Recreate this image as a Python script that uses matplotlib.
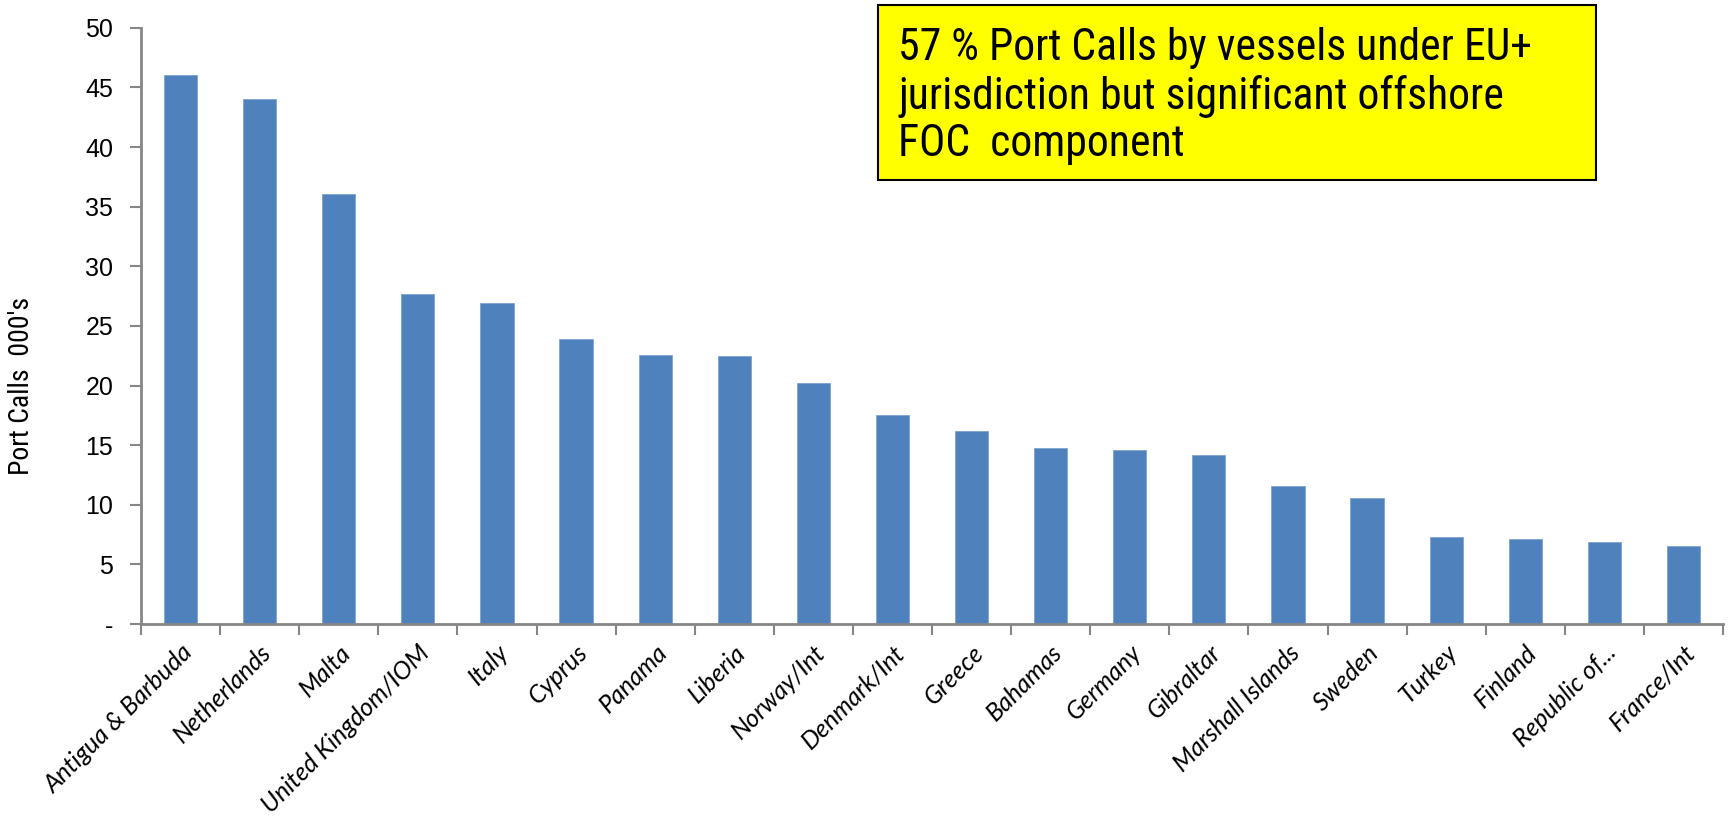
import matplotlib
matplotlib.use("Agg")
import matplotlib.pyplot as plt
from matplotlib.patches import Rectangle
from matplotlib import font_manager
import numpy as np

countries = ["Antigua & Barbuda", "Netherlands", "Malta", "United Kingdom/IOM", "Italy",
             "Cyprus", "Panama", "Liberia", "Norway/Int", "Denmark/Int", "Greece",
             "Bahamas", "Germany", "Gibraltar", "Marshall Islands", "Sweden", "Turkey",
             "Finland", "Republic of...", "France/Int"]
port_calls = [46.0, 44.0, 36.1, 27.7, 26.9, 23.9, 22.6, 22.5, 20.2, 17.5, 16.2,
              14.8, 14.6, 14.2, 11.6, 10.6, 7.3, 7.1, 6.9, 6.5]
ytick_vals = [0, 5, 10, 15, 20, 25, 30, 35, 40, 45, 50]
ytick_labels = ["-", "5", "10", "15", "20", "25", "30", "35", "40", "45", "50"]
ylabel_text = "Port Calls  000's"
box_text = "57 % Port Calls by vessels under EU+\njurisdiction but significant offshore\nFOC  component"

axis_gray = "#868686"
bar_color = "#4F81BD"

# find a narrow / condensed font if one is installed
entries = font_manager.fontManager.ttflist
narrow_family, narrow_stretch = "Liberation Sans", "normal"
preferred = ["Liberation Sans Narrow", "Roboto Condensed", "Open Sans Condensed",
             "Noto Sans Condensed", "Noto Sans SemiCondensed", "DejaVu Sans Condensed"]
names = {e.name for e in entries}
found = False
for p in preferred:
    if p in names:
        narrow_family, found = p, True
        break
if not found:
    for e in entries:
        st = str(e.stretch).lower()
        if e.style == "normal" and ("condensed" in st or "narrow" in st or st in ("100", "75", "62.5", "87.5")) \
                and e.name in ("Roboto", "Noto Sans", "Open Sans", "DejaVu Sans", "Liberation Sans"):
            narrow_family, narrow_stretch, found = e.name, e.stretch, True
            break
narrow = dict(family=[narrow_family, "DejaVu Sans"], stretch=narrow_stretch)

fig = plt.figure(figsize=(17.28, 8.23), dpi=100)
ax = fig.add_axes([141/1728, 1-624/823, (1723-141)/1728, (624-27.8)/823])

x = np.arange(len(countries))
ax.bar(x, port_calls, width=0.42, color=bar_color, edgecolor="#7FA3D3", linewidth=0.6)

ax.set_xlim(-0.5, len(countries) - 0.5)
ax.set_ylim(0, 50)

for s in ["top", "right"]:
    ax.spines[s].set_visible(False)
for s in ["left", "bottom"]:
    ax.spines[s].set_color(axis_gray)
    ax.spines[s].set_linewidth(2)

ax.set_yticks(ytick_vals)
ax.set_yticklabels(ytick_labels, family=["Liberation Sans", "DejaVu Sans"], fontsize=18)
ax.tick_params(axis="y", direction="out", length=8, width=1.5, color=axis_gray, pad=12)

ax.set_xticks(np.arange(-0.5, len(countries) + 0.5, 1.0), minor=False)
ax.set_xticklabels([])
ax.set_xticks(x, minor=True)
ax.set_xticklabels(countries, minor=True, rotation=45, ha="right", va="top",
                   rotation_mode="anchor", fontsize=18, style="italic",
                   family=["Lato", "DejaVu Sans"])
ax.tick_params(axis="x", which="major", direction="out", length=8, width=1.5, color=axis_gray)
ax.tick_params(axis="x", which="minor", length=0, pad=12)

fig.text(22/1728, 1-386/823, ylabel_text, rotation=90, ha="center", va="center",
         fontsize=20, **narrow)

# annotation box
bx0, by0, bx1, by1 = 878/1728, 1-180/823, 1596/1728, 1-5.5/823
fig.patches.append(Rectangle((bx0, by0), bx1-bx0, by1-by0, transform=fig.transFigure,
                             facecolor="#FFFF00", edgecolor="black", linewidth=1.5, zorder=5))
fig.text(898/1728, 1-96/823, box_text, ha="left", va="center", fontsize=31.5,
         linespacing=1.16, zorder=6, **narrow)

fig.savefig("out.png", dpi=100)
